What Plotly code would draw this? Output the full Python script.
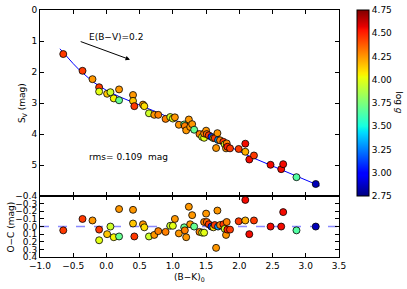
import plotly.graph_objects as go

# ---- data ----
bk0 = [-0.65, -0.36, -0.21, -0.11, -0.11, 0.01, 0.06, 0.11, 0.19, 0.19,
       0.40, 0.40, 0.42, 0.55, 0.57, 0.64, 0.72, 0.78, 0.89, 0.96,
       1.00, 1.03, 1.09, 1.17, 1.18, 1.20, 1.24, 1.26, 1.29, 1.32,
       1.40, 1.44, 1.47, 1.47, 1.50, 1.51, 1.54, 1.58, 1.61, 1.63,
       1.65, 1.67, 1.68, 1.71, 1.76, 1.78, 1.80, 1.81, 1.82, 1.86,
       1.99, 2.09, 2.09, 2.15, 2.22, 2.47, 2.63, 2.66, 2.86, 3.15]
sv = [1.42, 1.96, 2.23, 2.49, 2.63, 2.70, 2.65, 2.85, 2.56, 2.91,
      2.74, 2.93, 3.10, 3.05, 3.10, 3.33, 3.38, 3.38, 3.51, 3.45,
      3.50, 3.46, 3.70, 3.69, 3.74, 3.88, 3.53, 3.77, 3.68, 3.86,
      4.00, 4.09, 4.12, 3.98, 3.89, 4.00, 4.04, 4.09, 4.13, 4.13,
      4.45, 3.97, 4.19, 4.20, 4.25, 4.33, 4.46, 4.30, 4.41, 4.46,
      4.48, 4.31, 4.57, 4.82, 4.69, 4.99, 5.13, 4.97, 5.39, 5.61]
oc = [0.05, -0.10, -0.08, 0.04, 0.18, 0.10, 0.00, 0.14, -0.23, 0.13,
      -0.22, -0.04, 0.13, -0.03, 0.01, 0.13, 0.11, 0.06, 0.07, -0.01,
      -0.01, -0.10, 0.09, 0.01, 0.05, 0.14, -0.26, -0.03, -0.15, 0.00,
      0.07, 0.08, 0.08, -0.06, -0.17, -0.06, -0.03, 0.00, 0.01, -0.02,
      0.28, -0.21, 0.00, -0.02, -0.03, 0.03, 0.11, -0.06, 0.04, 0.04,
      -0.07, -0.35, -0.08, 0.10, -0.08, 0.00, 0.00, -0.19, 0.05, 0.00]
logg = [4.45, 4.45, 4.25, 4.45, 4.00, 4.15, 3.95, 4.05, 4.25, 3.70,
        4.25, 4.15, 4.45, 4.25, 4.10, 3.95, 4.25, 4.30, 4.30, 3.95,
        4.00, 4.25, 4.25, 3.70, 4.30, 4.25, 4.25, 4.25, 4.25, 3.70,
        4.30, 3.95, 4.00, 4.30, 4.25, 4.35, 4.45, 3.10, 4.10, 4.45,
        4.25, 4.25, 3.30, 4.30, 4.45, 3.95, 4.25, 4.30, 4.50, 4.45,
        4.45, 4.55, 4.20, 4.55, 4.45, 4.55, 4.55, 4.55, 3.65, 2.85]

fit_x = [-0.70, -0.60, -0.50, -0.40, -0.30, -0.20, -0.10, 0.00, 0.20, 0.40,
         0.60, 0.80, 1.00, 1.20, 1.40, 1.60, 1.80, 2.00, 2.20, 2.40,
         2.60, 2.80, 3.00, 3.21]
fit_y = [1.25, 1.50, 1.73, 1.95, 2.15, 2.32, 2.46, 2.59, 2.80, 2.97,
         3.14, 3.33, 3.52, 3.71, 3.92, 4.13, 4.35, 4.56, 4.76, 4.94,
         5.11, 5.28, 5.46, 5.67]

x_ticks = [-1.0, -0.5, 0.0, 0.5, 1.0, 1.5, 2.0, 2.5, 3.0, 3.5]
sv_ticks = [0, 1, 2, 3, 4, 5]
oc_ticks = [-0.4, -0.3, -0.2, -0.1, 0.0, 0.1, 0.2, 0.3, 0.4]
cb_ticks = [2.75, 3.00, 3.25, 3.50, 3.75, 4.00, 4.25, 4.50, 4.75]

jet = [[0.0, "rgb(0,0,128)"], [0.11, "rgb(0,0,255)"], [0.125, "rgb(0,0,255)"],
       [0.34, "rgb(0,219,255)"], [0.35, "rgb(0,230,247)"], [0.375, "rgb(21,255,226)"],
       [0.64, "rgb(239,255,8)"], [0.65, "rgb(247,245,0)"], [0.66, "rgb(255,236,0)"],
       [0.89, "rgb(255,19,0)"], [0.91, "rgb(232,0,0)"], [1.0, "rgb(128,0,0)"]]

FONT = "DejaVu Sans"
FS = 9
split = 0.2465

fig = go.Figure()

fig.add_trace(go.Scatter(x=fit_x, y=fit_y, mode="lines",
                         line=dict(color="blue", width=1), xaxis="x", yaxis="y",
                         showlegend=False, hoverinfo="skip"))
fig.add_trace(go.Scatter(
    x=bk0, y=sv, mode="markers", xaxis="x", yaxis="y", showlegend=False,
    marker=dict(size=7, color=logg, colorscale=jet, cmin=2.75, cmax=4.75,
                line=dict(color="black", width=0.8),
                colorbar=dict(x=1.06, xanchor="left", y=1, yanchor="top",
                              len=1 - split, lenmode="fraction", thickness=12,
                              outlinewidth=1, outlinecolor="black",
                              tickvals=cb_ticks, ticktext=[f"{v:.2f}" for v in cb_ticks],
                              ticks="", tickfont=dict(family=FONT, size=FS, color="black"),
                              xpad=0, ypad=0))))

fig.add_trace(go.Scatter(x=[-1.0, 3.5], y=[0, 0], mode="lines", xaxis="x2", yaxis="y2",
                         line=dict(color="rgba(60,60,255,0.6)", width=1.6, dash="dash"),
                         showlegend=False, hoverinfo="skip"))
fig.add_trace(go.Scatter(
    x=bk0, y=oc, mode="markers", xaxis="x2", yaxis="y2", showlegend=False,
    marker=dict(size=7, color=logg, colorscale=jet, cmin=2.75, cmax=4.75,
                line=dict(color="black", width=0.8), showscale=False)))

axcommon = dict(showgrid=False, zeroline=False, showline=True, linecolor="black",
                linewidth=1, mirror="ticks", ticks="inside", ticklen=4,
                tickcolor="black", tickfont=dict(family=FONT, size=FS, color="black"))

fig.update_layout(
    width=407, height=289, plot_bgcolor="white", paper_bgcolor="white",
    margin=dict(l=40, r=68, t=9.5, b=32, autoexpand=False),
    xaxis=dict(domain=[0, 1], range=[-1.0, 3.5], anchor="y", tickvals=x_ticks,
               showticklabels=False, **axcommon),
    yaxis=dict(domain=[split, 1], range=[6, 0], anchor="x", tickvals=sv_ticks,
               ticktext=[str(v) for v in sv_ticks], **axcommon),
    xaxis2=dict(domain=[0, 1], range=[-1.0, 3.5], anchor="y2", tickvals=x_ticks,
                ticktext=[f"{v:.1f}".replace("-", "\u2212") for v in x_ticks], **axcommon),
    yaxis2=dict(domain=[0, split], range=[0.4, -0.4], anchor="x2", tickvals=oc_ticks,
                ticktext=[f"{v:.1f}".replace("-", "\u2212") for v in oc_ticks], **axcommon),
)

tf = dict(family=FONT, size=FS, color="black")
fig.add_annotation(x=0.355, y=1.60, ax=-0.41, ay=1.0, xref="x", yref="y", axref="x", ayref="y",
                   text="", showarrow=True, arrowhead=2, arrowsize=0.9, arrowwidth=1,
                   arrowcolor="black")
fig.add_annotation(x=-0.29, y=0.88, xref="x", yref="y", text="E(B\u2212V)=0.2",
                   showarrow=False, xanchor="left", yanchor="middle", font=tf)
fig.add_annotation(x=-0.29, y=4.73, xref="x", yref="y", text="rms= 0.109\u00a0\u00a0mag",
                   showarrow=False, xanchor="left", yanchor="middle", font=tf)
fig.add_annotation(x=-0.06, y=0.5, xref="paper", yref="y domain", text="S<sub>V</sub> (mag)",
                   textangle=-90, showarrow=False, xanchor="center", yanchor="middle", font=tf)
fig.add_annotation(x=-0.097, y=0.5, xref="paper", yref="y2 domain", text="O\u2212C (mag)",
                   textangle=-90, showarrow=False, xanchor="center", yanchor="middle", font=tf)
fig.add_annotation(x=0.5, y=-0.081, xref="paper", yref="paper", text="(B\u2212K)<sub>0</sub>",
                   showarrow=False, xanchor="center", yanchor="middle", font=tf)
fig.add_annotation(x=1.20, y=0.5, xref="paper", yref="y domain", text="log <i>g</i>",
                   textangle=90, showarrow=False, xanchor="center", yanchor="middle", font=tf)

fig.write_html("out.html", config={"displayModeBar": False},
               post_script="document.body.style.margin='0';")
